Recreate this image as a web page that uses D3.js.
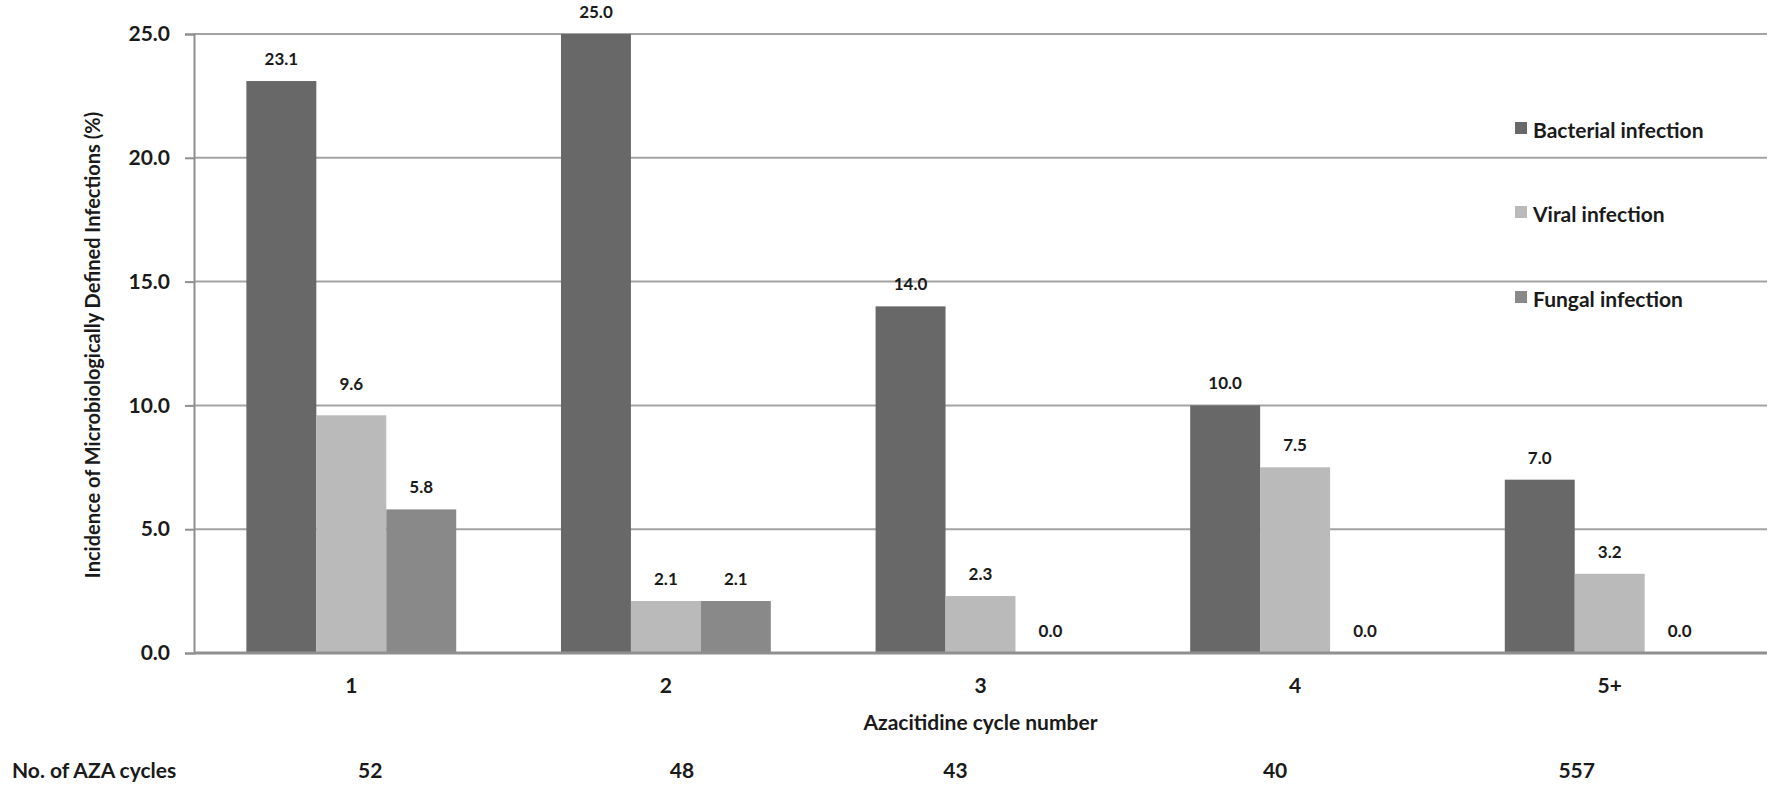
<!DOCTYPE html>
<html>
<head>
<meta charset="utf-8">
<script src="https://cdn.jsdelivr.net/npm/d3@7/dist/d3.min.js"></script>
<style>
  html, body { margin: 0; padding: 0; background: #ffffff; }
  svg { display: block; }
  text { font-family: Lato, "Open Sans", "DejaVu Sans", sans-serif; font-weight: 700; fill: #1a1a1a; }
</style>
</head>
<body>
<svg id="chart" width="1777" height="786"></svg>
<script>
// Data: incidence (%) of microbiologically defined infections by azacitidine cycle
const categories = ["1", "2", "3", "4", "5+"];
const seriesNames = ["Bacterial infection", "Viral infection", "Fungal infection"];
const bacterial = [23.1, 25.0, 14.0, 10.0, 7.0];
const viral = [9.6, 2.1, 2.3, 7.5, 3.2];
const fungal = [5.8, 2.1, 0.0, 0.0, 0.0];
const yTicks = [0, 5, 10, 15, 20, 25];
const cycleCounts = [52, 48, 43, 40, 557];

const seriesValues = [bacterial, viral, fungal];
const colors = ["#686868", "#bababa", "#898989"];

// Layout
const plot = { left: 194, right: 1767, top: 34, bottom: 653 };
const countShift = [19, 16, -25, -20, -33];   // horizontal nudges of the cycle-count row
const labelNudge = { "0-1": -9 };               // manual nudge for a crowded value label
const FONT = "Lato, 'Open Sans', sans-serif";

const svg = d3.select("#chart");

const x = d3.scaleBand()
  .domain(categories)
  .range([plot.left, plot.right])
  .paddingInner(0.333)
  .paddingOuter(0.1665);

const xs = d3.scaleBand()
  .domain(seriesNames)
  .range([0, x.bandwidth()]);

const y = d3.scaleLinear().domain([0, 25]).range([plot.bottom, plot.top]);

// Horizontal gridlines
svg.append("g")
  .selectAll("line")
  .data(yTicks.filter(d => d > 0))
  .join("line")
  .attr("x1", plot.left)
  .attr("x2", plot.right)
  .attr("y1", d => y(d))
  .attr("y2", d => y(d))
  .attr("stroke", "#a3a3a3")
  .attr("stroke-width", 2);

// Y axis with ticks on the left
const yAxis = svg.append("g")
  .attr("transform", `translate(${plot.left},0)`)
  .call(d3.axisLeft(y).tickValues(yTicks).tickFormat(d3.format(".1f")).tickSize(9).tickPadding(15));
yAxis.select(".domain").attr("stroke", "#8f8f8f").attr("stroke-width", 2);
yAxis.selectAll(".tick line").attr("stroke", "#8f8f8f").attr("stroke-width", 2);
yAxis.selectAll(".tick text")
  .attr("font-size", 21)
  .attr("font-family", FONT)
  .attr("font-weight", 700)
  .attr("fill", "#1a1a1a");

// Bars
const rows = categories.map((c, i) => ({
  cat: c,
  idx: i,
  vals: seriesNames.map((s, j) => ({ s, j, v: seriesValues[j][i] }))
}));

const groups = svg.append("g")
  .selectAll("g")
  .data(rows)
  .join("g")
  .attr("transform", d => `translate(${x(d.cat)},0)`);

groups.selectAll("rect")
  .data(d => d.vals)
  .join("rect")
  .attr("x", d => xs(d.s))
  .attr("width", xs.bandwidth())
  .attr("y", d => y(d.v))
  .attr("height", d => y(0) - y(d.v))
  .attr("fill", d => colors[d.j]);

// Value labels above each bar
groups.each(function (row) {
  d3.select(this).selectAll("text.val")
    .data(row.vals)
    .join("text")
    .attr("class", "val")
    .attr("x", d => xs(d.s) + xs.bandwidth() / 2)
    .attr("y", d => y(d.v) - 16 + (labelNudge[row.idx + "-" + d.j] || 0))
    .attr("text-anchor", "middle")
    .attr("font-size", 17)
    .text(d => d3.format(".1f")(d.v));
});

// X axis line
svg.append("line")
  .attr("x1", plot.left)
  .attr("x2", plot.right)
  .attr("y1", y(0))
  .attr("y2", y(0))
  .attr("stroke", "#8f8f8f")
  .attr("stroke-width", 3);

// Category labels
const xAxis = svg.append("g")
  .attr("transform", `translate(0,${plot.bottom})`)
  .call(d3.axisBottom(x).tickSize(0).tickPadding(0));
xAxis.select(".domain").remove();
xAxis.selectAll(".tick text")
  .attr("y", 40)
  .attr("dy", 0)
  .attr("font-size", 21)
  .attr("font-family", FONT)
  .attr("font-weight", 700)
  .attr("fill", "#1a1a1a");

// X axis title
svg.append("text")
  .attr("x", x("3") + x.bandwidth() / 2)
  .attr("y", 730)
  .attr("text-anchor", "middle")
  .attr("font-size", 21)
  .text("Azacitidine cycle number");

// Y axis title
svg.append("text")
  .attr("transform", "translate(100,345) rotate(-90)")
  .attr("text-anchor", "middle")
  .attr("font-size", 20)
  .text("Incidence of Microbiologically Defined Infections (%)");

// Number of cycles row
svg.append("text")
  .attr("x", 12)
  .attr("y", 778)
  .attr("font-size", 21)
  .text("No. of AZA cycles");

svg.append("g")
  .selectAll("text")
  .data(cycleCounts)
  .join("text")
  .attr("x", (d, i) => x(categories[i]) + x.bandwidth() / 2 + countShift[i])
  .attr("y", 778)
  .attr("text-anchor", "middle")
  .attr("font-size", 21)
  .text(d => d);

// Legend
const legendY = [138, 222, 307];
const legend = svg.append("g")
  .selectAll("g")
  .data(seriesNames)
  .join("g")
  .attr("transform", (d, i) => `translate(1515,${legendY[i]})`);

legend.append("rect")
  .attr("x", 0)
  .attr("y", -16)
  .attr("width", 12)
  .attr("height", 12)
  .attr("fill", (d, i) => colors[i]);

legend.append("text")
  .attr("x", 18)
  .attr("y", 0)
  .attr("font-size", 21)
  .text(d => d);
</script>
</body>
</html>
